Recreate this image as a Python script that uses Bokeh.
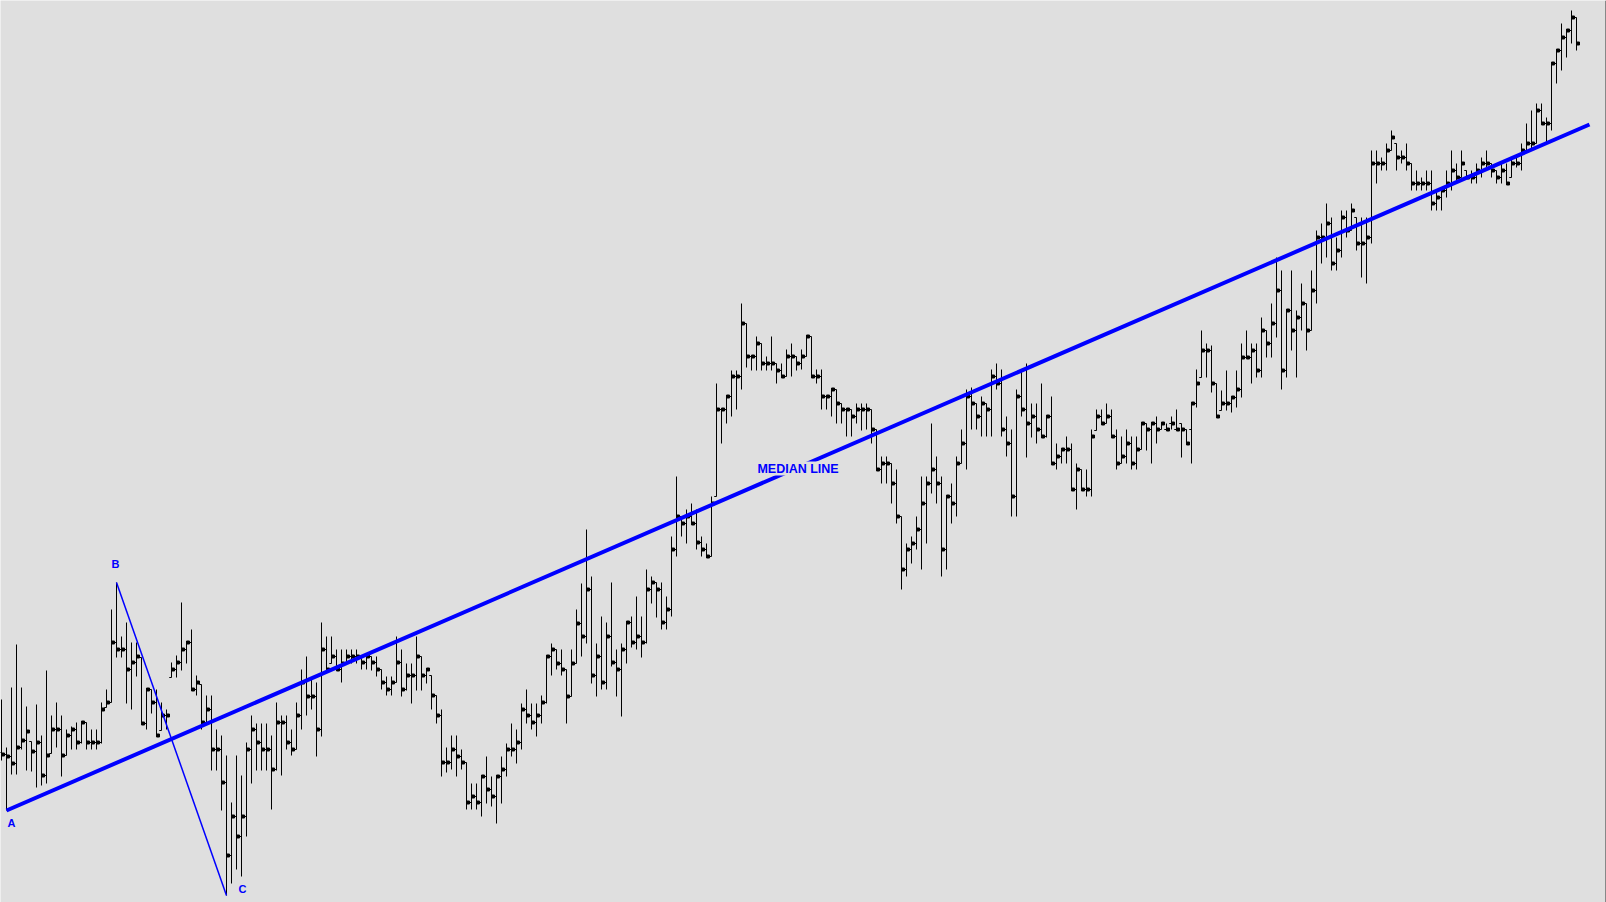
from bokeh.plotting import figure
from bokeh.models import Range1d, Label, ColumnDataSource, Span
from bokeh.embed import file_html
from bokeh.resources import INLINE
from bokeh.core.properties import value

# ---- OHLC data (price units), one bar per session ----
highs = [203,155,215,258,215,196,161,198,167,232,187,200,187,173,176,180,180,180,173,173,
         200,213,293,320,266,280,260,260,245,213,213,213,200,193,240,247,300,260,273,227,
         218,207,207,173,167,147,100,147,127,160,187,179,179,179,167,200,187,187,173,200,
         233,246,223,220,280,266,266,253,253,253,253,253,246,246,246,246,233,226,226,266,
         253,239,239,266,246,233,227,207,193,155,167,167,153,140,119,119,126,146,126,126,
         146,159,179,173,199,213,199,199,207,246,259,253,253,233,253,293,319,373,326,259,
         286,280,320,253,259,280,286,306,286,333,326,320,320,306,366,426,386,393,399,393,
         366,359,406,519,493,506,532,532,599,579,546,566,559,546,566,539,539,553,559,546,
         553,566,566,533,533,506,513,513,499,493,493,499,499,499,493,473,446,446,439,433,
         386,359,366,386,426,426,479,446,426,406,419,446,473,513,515,499,506,499,533,539,
         533,486,473,513,532,539,499,499,519,486,506,459,453,466,459,439,433,433,473,493,
         493,499,493,473,466,473,466,466,479,479,479,486,479,479,486,493,479,473,499,533,
         572,559,557,519,512,532,505,532,559,572,559,559,585,572,599,645,632,592,632,592,
         619,599,632,672,679,699,685,665,692,692,699,685,685,685,752,752,745,759,772,759,
         752,759,739,732,725,732,732,712,712,732,752,739,752,732,732,739,745,752,739,732,
         739,739,745,745,759,779,792,799,799,785,839,852,879,872,892,885]
lows = [142,92,128,128,153,132,131,115,117,119,149,155,126,147,153,153,159,153,153,153,
        159,195,200,245,245,199,193,226,179,173,189,167,172,173,225,225,232,239,213,207,
        173,179,132,132,92,7,19,33,26,66,119,132,132,132,93,132,127,153,147,153,
        173,187,193,146,166,232,239,232,220,239,239,239,233,233,232,226,213,207,207,220,
        206,212,199,212,212,219,193,179,126,130,133,126,133,93,93,93,86,99,96,79,
        99,126,146,139,153,179,173,166,179,199,227,233,227,179,206,239,246,259,219,206,
        213,213,236,206,186,239,255,253,245,259,299,285,273,273,286,346,366,359,379,353,
        346,346,346,406,459,479,486,493,513,535,532,532,532,532,532,519,526,526,526,532,
        533,546,526,519,493,493,486,479,479,466,466,479,472,473,459,433,419,419,399,379,
        313,326,339,353,333,359,409,399,326,333,379,386,439,433,473,473,466,466,466,513,
        466,446,386,386,486,445,465,459,465,465,439,433,439,439,413,393,413,406,406,472,
        479,479,465,433,439,439,433,433,453,452,439,459,473,472,473,473,445,459,439,495,
        525,525,510,486,492,492,490,495,505,545,519,525,525,545,545,565,513,525,552,525,
        572,552,572,599,639,645,632,632,645,665,672,652,625,619,659,719,732,732,752,732,
        739,732,712,712,712,712,692,692,692,705,712,719,725,725,719,719,725,732,725,719,
        719,719,725,735,732,752,752,759,779,759,772,819,832,845,859,852]
closes = [148,146,139,155,162,171,151,160,127,147,173,173,147,167,173,160,180,160,160,160,
          193,200,260,253,253,233,240,246,179,213,200,167,187,187,233,240,253,260,213,220,
          180,193,153,153,120,47,86,66,86,153,173,160,153,153,133,180,180,160,153,187,
          220,206,206,173,253,233,246,233,239,246,246,246,240,246,240,233,220,213,220,240,
          213,227,227,246,227,233,207,187,140,140,153,146,140,100,106,100,126,113,106,126,
          133,153,153,160,193,187,180,187,200,246,253,239,233,206,239,279,266,313,227,246,
          220,266,240,233,253,280,260,266,260,313,320,313,280,293,353,386,379,386,379,360,
          353,346,399,493,493,506,526,526,579,546,546,559,539,539,539,532,526,546,546,539,
          546,566,526,526,506,506,513,499,493,493,486,493,493,493,473,433,439,439,419,386,
          333,353,359,373,399,419,433,419,353,406,399,439,459,506,499,486,499,493,526,519,
          473,459,406,506,493,479,486,473,466,486,439,446,453,453,413,433,413,413,466,486,
          479,486,466,439,446,459,439,453,479,473,479,473,479,473,479,473,473,459,499,519,
          552,552,519,486,499,499,505,513,545,545,552,532,572,559,579,612,532,592,572,585,
          599,572,612,665,665,679,639,652,685,672,692,659,659,665,739,739,739,752,765,745,
          745,739,719,719,719,719,699,705,712,719,732,725,739,725,725,732,739,739,732,725,
          732,719,739,739,752,759,759,792,779,779,839,852,865,872,885,859]
opens = [150,148,146,139,155,162,161,151,160,127,149,173,173,147,167,173,160,180,160,160,
         160,195,200,260,253,253,233,240,245,179,213,200,172,187,225,233,240,253,260,213,
         218,180,193,153,153,120,47,86,66,86,153,173,160,153,153,133,180,180,160,153,
         187,220,206,206,173,253,239,246,233,239,246,246,246,240,246,240,233,220,213,220,
         240,213,227,227,246,227,227,207,187,140,140,153,146,140,100,106,100,126,113,106,
         126,133,153,153,160,193,187,180,187,200,246,253,239,233,206,239,279,266,313,227,
         246,220,266,240,233,253,280,260,266,260,313,320,313,280,293,353,386,379,386,379,
         360,353,346,406,493,493,506,526,526,579,546,546,559,539,539,539,532,526,546,546,
         539,546,566,526,526,506,506,513,499,493,493,486,493,493,493,473,433,439,439,419,
         386,333,353,359,373,399,419,433,419,353,406,399,439,459,506,499,486,499,493,526,
         519,473,459,406,506,493,479,486,473,466,486,439,446,453,453,413,433,413,413,472,
         486,479,486,466,439,446,459,439,453,479,473,479,473,473,479,473,479,473,473,499,
         525,552,552,519,492,499,499,505,513,545,545,552,532,572,559,579,612,532,592,572,
         585,599,572,612,665,665,679,639,652,685,672,685,659,659,665,739,739,739,752,759,
         745,745,739,719,719,719,719,699,705,712,719,732,725,732,725,725,732,739,739,732,
         725,732,725,739,739,752,759,759,792,779,779,839,852,865,872,885]

# Pitchfork pivot bars (indices into the series)
pivot_a = 1    # A: swing low
pivot_b = 23   # B: swing high
pivot_c = 45   # C: swing low

BG = "#dfdfdf"
BLUE = "#0000ff"

n = len(closes)
idx = list(range(n))

p = figure(width=1606, height=902, output_backend="svg", toolbar_location=None,
           x_range=Range1d(-0.2, 321), y_range=Range1d(0, 902),
           min_border=0, background_fill_color=BG, border_fill_color=BG,
           outline_line_color=None)
p.axis.visible = False
p.grid.visible = False

src = ColumnDataSource(dict(
    x=idx, o=opens, h=highs, l=lows, c=closes,
    xo=[i - 0.45 for i in idx], xc=[i + 0.6 for i in idx], xs=[i + 0.3 for i in idx],
))
p.segment(x0="x", y0="l", x1="x", y1="h", source=src, line_color="black", line_width=1)
p.segment(x0="xo", y0="o", x1="x", y1="o", source=src, line_color="black", line_width=1)
p.segment(x0="x", y0="c", x1="xc", y1="c", source=src, line_color="black", line_width=1)
p.scatter(x="xs", y="c", source=src, marker="square", size=3, color="black")

# Andrews pitchfork: B-C line and median line from A through mid(BC)
ax, ay = pivot_a, lows[pivot_a]
bx, by = pivot_b, highs[pivot_b]
cx, cy = pivot_c, lows[pivot_c]
mx, my = (bx + cx) / 2, (by + cy) / 2
slope = (my - ay) / (mx - ax)
x_end = n - 1 + 2.6
p.line([bx, cx], [by, cy], line_color=BLUE, line_width=1.5)
p.line([ax, x_end], [ay, ay + slope * (x_end - ax)], line_color=BLUE, line_width=4)

font = value("Liberation Sans")
p.text(x=[ax], y=[ay], text=["A"], text_font=font, text_font_style="bold",
       text_font_size="11px", text_color=BLUE, text_align="left", text_baseline="top",
       x_offset=1, y_offset=6)
p.text(x=[bx], y=[by], text=["B"], text_font=font, text_font_style="bold",
       text_font_size="11px", text_color=BLUE, text_align="center", text_baseline="bottom",
       x_offset=-1, y_offset=-13)
p.text(x=[cx], y=[cy], text=["C"], text_font=font, text_font_style="bold",
       text_font_size="11px", text_color=BLUE, text_align="left", text_baseline="bottom",
       x_offset=12, y_offset=-1)

lx = 159.3
p.add_layout(Label(x=lx, y=ay + slope * (lx - ax) - 1, text="MEDIAN LINE",
                   text_font="Liberation Sans", text_font_style="bold", text_font_size="12.5px",
                   text_color=BLUE, text_align="center", text_baseline="middle",
                   background_fill_color=BG, background_fill_alpha=1.0))

# thin dark frame edge on the right side of the chart window
p.add_layout(Span(location=320.9, dimension="height", line_color="#303030", line_width=1))

open("out.html", "w").write(file_html(p, INLINE))
